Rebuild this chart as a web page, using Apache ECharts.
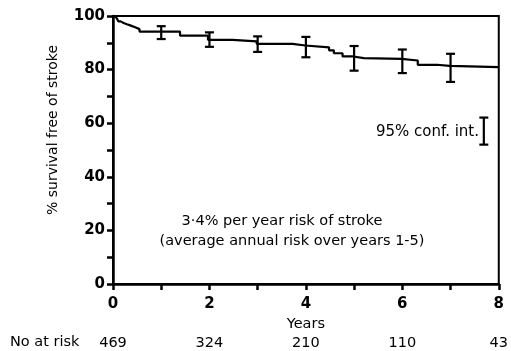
<!DOCTYPE html>
<html><head><meta charset="utf-8">
<script src="https://cdn.jsdelivr.net/npm/echarts@6/dist/echarts.min.js"></script>
<style>html,body{margin:0;padding:0;background:#fff}#c{width:511px;height:351px}</style>
</head><body><div id="c"></div>
<script>
// Kaplan-Meier stroke-free survival (years, %)
const kmYears    = [0, 0.03, 0.07, 0.11, 0.16, 0.22, 0.29, 0.37, 0.46, 0.55, 1.39, 1.97, 2.48, 2.98, 3.72, 3.99, 4.48, 4.58, 4.76, 4.98, 5.2, 5.98, 6.32, 6.72, 6.98, 8];
const kmSurvival = [100, 99.4, 98.7, 98.0, 97.4, 96.9, 96.4, 95.8, 95.1, 94.2, 92.7, 91.1, 90.5, 89.6, 89.0, 88.3, 87.2, 86.1, 84.9, 84.3, 84.0, 83.4, 81.8, 81.4, 80.9, 80.9];
// 95% confidence intervals
const ciYears = [1, 2, 3, 4, 5, 6, 7];
const ciHigh  = [96.2, 93.9, 92.4, 92.2, 88.8, 87.5, 85.9];
const ciLow   = [91.4, 88.5, 86.6, 84.6, 79.6, 78.7, 75.4];
// legend bar "95% conf. int."
const legendBar = [7.69, 52.0, 62.1];
// numbers at risk
const riskYears  = [0, 2, 4, 6, 8];
const riskCounts = [469, 324, 210, 110, 43];
const yTicks = [0, 20, 40, 60, 80, 100];

const FONT = '"DejaVu Sans", sans-serif';
const chart = echarts.init(document.getElementById('c'), null, {renderer: 'canvas'});

function errBar(params, api) {
  const x = api.value(0), lo = api.value(1), hi = api.value(2);
  const a = api.coord([x, hi]), b = api.coord([x, lo]);
  const w = 4.5;
  const st = {stroke: '#000', lineWidth: 2.2};
  return {type: 'group', children: [
    {type: 'line', shape: {x1: a[0], y1: a[1], x2: b[0], y2: b[1]}, style: st},
    {type: 'line', shape: {x1: a[0] - w, y1: a[1], x2: a[0] + w, y2: a[1]}, style: st},
    {type: 'line', shape: {x1: b[0] - w, y1: b[1], x2: b[0] + w, y2: b[1]}, style: st}
  ]};
}

const riskMap = {};
riskYears.forEach((y, i) => riskMap[y] = riskCounts[i]);

chart.setOption({
  animation: false,
  backgroundColor: '#fff',
  grid: {left: 113, right: 11, top: 16, bottom: 66, show: true, borderColor: '#000', borderWidth: 2},
  xAxis: [{
    type: 'value', min: 0, max: 8, interval: 1,
    axisLine: {show: true, lineStyle: {color: '#000', width: 2.5}},
    axisTick: {show: true, length: 6, lineStyle: {color: '#000', width: 2.5}},
    splitLine: {show: false},
    axisLabel: {margin: 13, color: '#000', fontFamily: FONT, fontWeight: 'bold', fontSize: 15,
      formatter: v => (v % 2 === 0 ? String(v) : '')},
    name: 'Years', nameLocation: 'middle', nameGap: 36,
    nameTextStyle: {color: '#000', fontFamily: FONT, fontSize: 14.5, verticalAlign: 'middle'}
  }, {
    type: 'value', min: 0, max: 8, interval: 2, position: 'bottom', offset: 52,
    axisLine: {show: false}, axisTick: {show: false}, splitLine: {show: false},
    axisLabel: {margin: 0, color: '#000', fontFamily: FONT, fontSize: 14.5,
      formatter: v => (riskMap[v] !== undefined ? String(riskMap[v]) : '')}
  }],
  yAxis: {
    type: 'value', min: 0, max: 100, interval: 10,
    axisLine: {show: true, lineStyle: {color: '#000', width: 2.5}},
    axisTick: {show: true, length: 6, lineStyle: {color: '#000', width: 2.5}},
    splitLine: {show: false},
    axisLabel: {margin: 8, color: '#000', fontFamily: FONT, fontWeight: 'bold', fontSize: 15,
      formatter: v => (yTicks.indexOf(v) >= 0 ? String(v) : '')}
  },
  graphic: [
    {type: 'text', left: 10, top: 335, style: {text: 'No at risk', fill: '#000', font: '14.5px ' + FONT}},
    {type: 'text', x: 53, y: 130, rotation: Math.PI / 2, style: {text: '% survival free of stroke', fill: '#000', font: '14px ' + FONT, align: 'center', verticalAlign: 'middle'}},
    {type: 'text', x: 282, y: 221, style: {text: '3·4% per year risk of stroke', fill: '#000', font: '14.5px ' + FONT, align: 'center', verticalAlign: 'middle'}},
    {type: 'text', x: 292, y: 241, style: {text: '(average annual risk over years 1-5)', fill: '#000', font: '14.5px ' + FONT, align: 'center', verticalAlign: 'middle'}},
    {type: 'text', x: 479, y: 132, style: {text: '95% conf. int.', fill: '#000', font: '15px ' + FONT, align: 'right', verticalAlign: 'middle'}}
  ],
  series: [{
    type: 'line', step: 'end', showSymbol: false, symbol: 'none',
    lineStyle: {color: '#000', width: 2.2},
    data: kmYears.map((t, i) => [t, kmSurvival[i]])
  }, {
    type: 'custom', renderItem: errBar,
    data: ciYears.map((t, i) => [t, ciLow[i], ciHigh[i]])
  }, {
    type: 'custom', renderItem: errBar,
    data: [legendBar]
  }]
});
</script></body></html>
